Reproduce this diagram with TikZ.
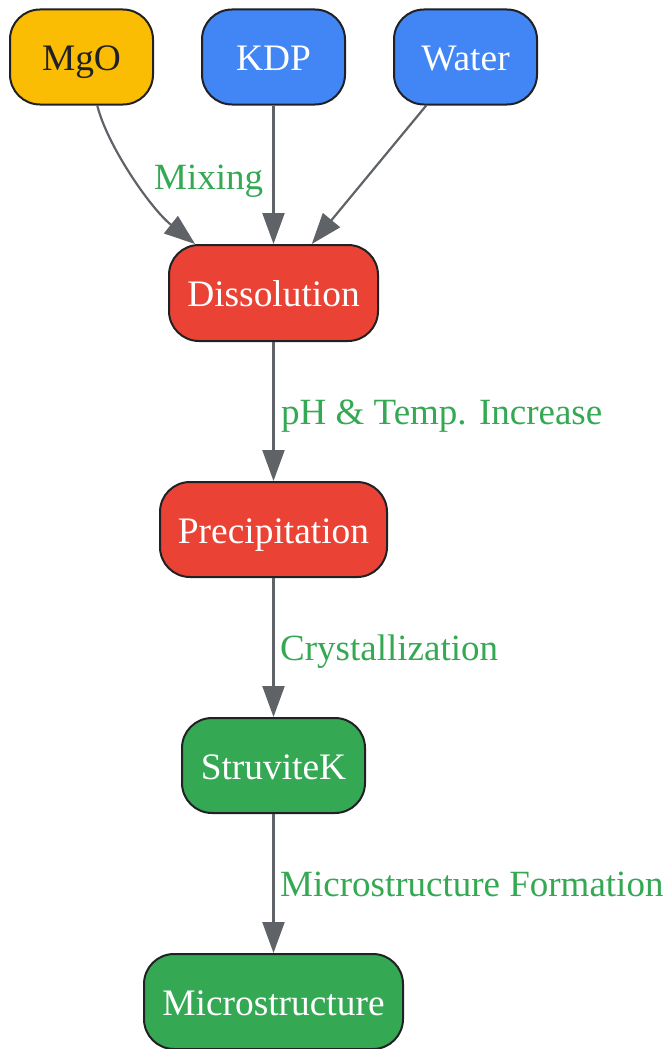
\documentclass[tikz,border=0pt]{standalone}
\usepackage{fontspec}
\setmainfont{Liberation Serif}
\usetikzlibrary{arrows.meta}
\definecolor{gyellow}{HTML}{FBBC04}
\definecolor{gblue}{HTML}{4285F4}
\definecolor{gred}{HTML}{EA4335}
\definecolor{ggreen}{HTML}{34A853}
\definecolor{edgegray}{HTML}{5F6368}
\definecolor{borderdark}{HTML}{202124}
\begin{document}
\begin{tikzpicture}[x=1pt,y=-1pt,
  box/.style={draw=borderdark, line width=2pt, rounded corners=30pt, inner sep=0pt,
    minimum height=95pt, text height=29.5pt, text depth=2.5pt,
    font=\fontsize{37.4}{40}\selectfont, text=white},
  conn/.style={draw=edgegray, line width=2.2pt, -{Triangle[length=31pt,width=22pt]}},
  lbl/.style={text=ggreen, font=\fontsize{37}{40}\selectfont, anchor=base west, inner sep=0pt}]
\useasboundingbox (0,0) rectangle (668,1049);
\node[box, fill=gyellow, text=borderdark, minimum width=143pt] (mgo) at (81.5,57) {MgO};
\node[box, fill=gblue, minimum width=143pt] (kdp) at (273.5,57) {KDP};
\node[box, fill=gblue, minimum width=143pt] (water) at (465.5,57) {Water};
\node[box, fill=gred, minimum width=209pt, minimum height=96pt] (diss) at (273.5,293) {Dissolution};
\node[box, fill=gred, minimum width=227pt] (prec) at (273.5,529.5) {Precipitation};
\node[box, fill=ggreen, minimum width=183pt] (struv) at (273.5,765.5) {StruviteK};
\node[box, fill=ggreen, minimum width=259pt] (micro) at (273.5,1001.5) {Microstructure};
\draw[conn] (mgo.288) .. controls (107,145) and (150,208) .. (diss.148);
\draw[conn] (kdp.south) -- (diss.north);
\draw[conn] (water.231) -- (diss.52);
\draw[conn] (diss.south) -- (prec.north);
\draw[conn] (prec.south) -- (struv.north);
\draw[conn] (struv.south) -- (micro.north);
\node[lbl] (l1) at (154,189) {Mixing};
\node[lbl] (l2) at (281,424.5) {pH \& Temp. Increase};
\node[lbl] (l3) at (280,660) {Crystallization};
\node[lbl] (l4) at (280,896) {Microstructure Formation};
\end{tikzpicture}
\end{document}
